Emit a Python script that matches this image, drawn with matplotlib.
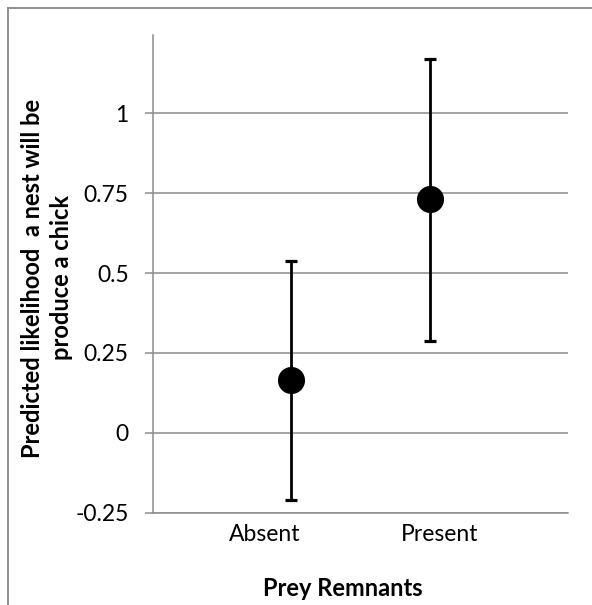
import matplotlib
matplotlib.use("Agg")
import matplotlib.pyplot as plt
import matplotlib.transforms as mtransforms
from matplotlib.lines import Line2D

# ---- data ----
categories = ["Absent", "Present"]
predicted = [0.165, 0.731]
ci_low = [-0.211, 0.287]
ci_high = [0.537, 1.171]
y_ticks = [-0.25, 0, 0.25, 0.5, 0.75, 1]
y_tick_labels = ["-0.25", "0", "0.25", "0.5", "0.75", "1"]

plt.rcParams['font.family'] = ['Lato', 'DejaVu Sans']

W, H = 592, 605
fig = plt.figure(figsize=(W / 100, H / 100), dpi=100)
fig.patch.set_facecolor("white")

left, right = 153, 568
top, bottom = 35, 512.7
ax = fig.add_axes([left / W, 1 - bottom / H, (right - left) / W, (bottom - top) / H])

grid_c = "#8c8c8c"
xs = list(range(1, len(categories) + 1))
yerr = [[p - l for p, l in zip(predicted, ci_low)],
        [h - p for p, h in zip(predicted, ci_high)]]
ax.errorbar(xs, predicted, yerr=yerr, fmt="o", color="black", ecolor="black",
            markersize=18.5, elinewidth=2.0, capsize=4.3, capthick=2.3, zorder=3)

ax.set_xlim(0, 3)
ax.set_ylim(-0.25, 1.245)
ax.set_yticks(y_ticks)
ax.set_yticklabels(y_tick_labels, fontsize=16.5)
ax.yaxis.grid(True, color=grid_c, linewidth=1.1)
ax.set_axisbelow(True)
ax.tick_params(axis="y", direction="out", length=5.5, width=1.1, color=grid_c, pad=12)

ax.set_xticks(xs)
ax.set_xticklabels(categories, fontsize=16.5)
ax.tick_params(axis="x", length=0, pad=8)
offsets = [-27, 10]
for lab, dx in zip(ax.get_xticklabels(), offsets):
    lab.set_transform(lab.get_transform() + mtransforms.ScaledTranslation(dx / 100, 0, fig.dpi_scale_trans))

for s in ["top", "right"]:
    ax.spines[s].set_visible(False)
ax.spines["left"].set_color(grid_c)
ax.spines["left"].set_linewidth(1.1)
ax.spines["bottom"].set_color(grid_c)
ax.spines["bottom"].set_linewidth(1.1)

fig.text(47 / W, 1 - 278 / H, "Predicted likelihood  a nest will be\nproduce a chick",
         rotation=90, ha="center", va="center", multialignment="center",
         fontsize=17, fontweight="bold", linespacing=1.3)
fig.text(342.5 / W, 1 - 589 / H, "Prey Remnants", ha="center", va="center",
         fontsize=17, fontweight="bold")

# figure border (top and left)
bc = "#878787"
fig.add_artist(Line2D([7.5 / W, 1.0], [1 - 7.5 / H, 1 - 7.5 / H], color=bc, linewidth=1.3,
                      transform=fig.transFigure))
fig.add_artist(Line2D([7.5 / W, 7.5 / W], [0, 1 - 7.5 / H], color=bc, linewidth=1.3,
                      transform=fig.transFigure))

fig.savefig("out.png", dpi=100, facecolor="white")
